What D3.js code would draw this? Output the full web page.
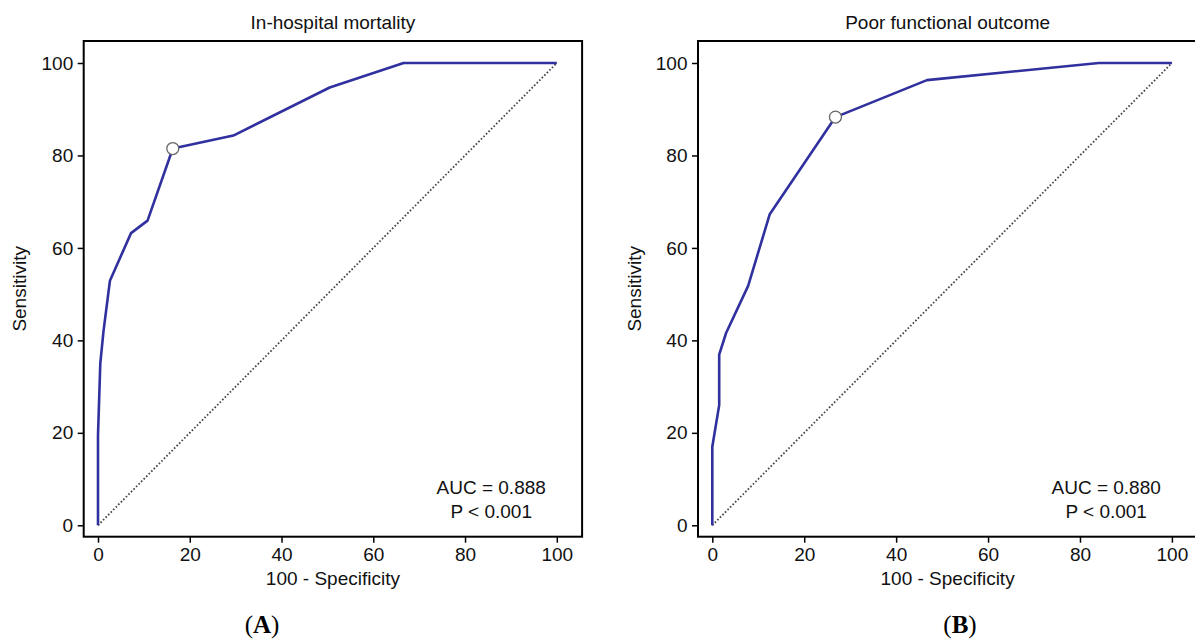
<!DOCTYPE html>
<html>
<head>
<meta charset="utf-8">
<script src="https://cdn.jsdelivr.net/npm/d3@7"></script>
<style>
  html, body { margin: 0; padding: 0; background: #fff; }
  svg { display: block; font-family: "Liberation Sans", Arial, sans-serif; }
</style>
</head>
<body>
<div id="chart"></div>
<script>
// tick values shared by both panels
const xTicks = [0, 20, 40, 60, 80, 100];
const yTicks = [0, 20, 40, 60, 80, 100];

// panel A: in-hospital mortality ROC
const mortalityFpr = [0, 0, 0.5, 1.2, 2.6, 7.2, 10.8, 16.3, 29.5, 50.5, 66.6, 100];
const mortalityTpr = [0, 19.5, 35, 42, 52.9, 63.2, 65.9, 81.5, 84.3, 94.7, 100, 100];
const mortalityCutoff = [16.3, 81.5];

// panel B: poor functional outcome ROC
const outcomeFpr = [0, 0, 1.5, 1.5, 3.0, 7.8, 12.5, 26.8, 46.7, 84.1, 100];
const outcomeTpr = [0, 17, 26, 36.9, 41.6, 51.8, 67.3, 88.3, 96.3, 100, 100];
const outcomeCutoff = [26.8, 88.3];

const panelTitles = ['In-hospital mortality', 'Poor functional outcome'];
const aucLabels = ['AUC = 0.888', 'AUC = 0.880'];
const pLabels = ['P < 0.001', 'P < 0.001'];
const panelLetters = ['A', 'B'];

const W = 1195, H = 641;
const lineColor = '#30309e';

const svg = d3.select('#chart')
    .append('svg')
    .attr('width', W)
    .attr('height', H);

// x0/x100 are pixel positions of data 0 and 100, letterX the (A)/(B) label centre
const panels = [
    {fpr: mortalityFpr, tpr: mortalityTpr, cut: mortalityCutoff, x0: 98, x100: 556.8, letterX: 262},
    {fpr: outcomeFpr, tpr: outcomeTpr, cut: outcomeCutoff, x0: 712.3, x100: 1171.9, letterX: 960}
];

panels.forEach((p, i) => {
    const x = d3.scaleLinear().domain([0, 100]).range([p.x0, p.x100]);
    const y = d3.scaleLinear().domain([0, 100]).range([525.3, 63]);

    // frame extends a bit beyond the data range
    const left = x(0) - 14.3, right = x(100) + 25.3;
    const top = 41, bottom = 536.7;

    const g = svg.append('g');

    // axes
    const yAxis = g.append('g')
        .attr('transform', `translate(${left},0)`)
        .call(d3.axisLeft(y).tickValues(yTicks).tickSize(6).tickPadding(4.5).tickSizeOuter(0));
    const xAxis = g.append('g')
        .attr('transform', `translate(0,${bottom})`)
        .call(d3.axisBottom(x).tickValues(xTicks).tickSize(6).tickPadding(4.5).tickSizeOuter(0));

    [xAxis, yAxis].forEach(a => {
        a.select('.domain').remove();
        a.selectAll('line').attr('stroke', '#000').attr('stroke-width', 1.5);
        a.selectAll('text')
            .attr('fill', '#111')
            .style('font-size', '19px')
            .style('font-family', '"Liberation Sans", Arial, sans-serif');
    });

    // reference diagonal
    g.append('line')
        .attr('x1', x(0)).attr('y1', y(0))
        .attr('x2', x(100)).attr('y2', y(100))
        .attr('stroke', '#444')
        .attr('stroke-width', 1.8)
        .attr('stroke-dasharray', '1.6 2');

    // ROC curve
    const pts = p.fpr.map((v, k) => [v, p.tpr[k]]);
    g.append('path')
        .datum(pts)
        .attr('fill', 'none')
        .attr('stroke', lineColor)
        .attr('stroke-width', 2.6)
        .attr('stroke-linejoin', 'round')
        .attr('d', d3.line().x(d => x(d[0])).y(d => y(d[1])));

    // optimal cut-off
    g.append('circle')
        .attr('cx', x(p.cut[0]))
        .attr('cy', y(p.cut[1]))
        .attr('r', 6)
        .attr('fill', '#fff')
        .attr('stroke', '#666')
        .attr('stroke-width', 1.3);

    // frame
    g.append('rect')
        .attr('x', left).attr('y', top)
        .attr('width', right - left)
        .attr('height', bottom - top)
        .attr('fill', 'none')
        .attr('stroke', '#000')
        .attr('stroke-width', 2);

    const cx = (left + right) / 2;

    g.append('text')
        .attr('x', cx).attr('y', 28.5)
        .attr('text-anchor', 'middle')
        .style('font-size', '19px')
        .attr('fill', '#111')
        .text(panelTitles[i]);

    g.append('text')
        .attr('x', cx).attr('y', 585)
        .attr('text-anchor', 'middle')
        .style('font-size', '19px')
        .attr('fill', '#111')
        .text('100 - Specificity');

    g.append('text')
        .attr('transform', `translate(${left - 64},${(top + bottom) / 2}) rotate(-90)`)
        .attr('dy', '0.35em')
        .attr('text-anchor', 'middle')
        .style('font-size', '19px')
        .attr('fill', '#111')
        .text('Sensitivity');

    // AUC annotation
    const ax = x(85.7);
    g.append('text')
        .attr('x', ax).attr('y', 494.3)
        .attr('text-anchor', 'middle')
        .style('font-size', '19px')
        .attr('fill', '#111')
        .text(aucLabels[i]);
    g.append('text')
        .attr('x', ax).attr('y', 517.7)
        .attr('text-anchor', 'middle')
        .style('font-size', '19px')
        .attr('fill', '#111')
        .text(pLabels[i]);

    // panel letter
    const lt = g.append('text')
        .attr('x', p.letterX).attr('y', 633)
        .attr('text-anchor', 'middle')
        .style('font-family', '"Liberation Serif", "Times New Roman", serif')
        .style('font-size', '25px')
        .attr('fill', '#000');
    lt.append('tspan').text('(');
    lt.append('tspan').attr('font-weight', 'bold').text(panelLetters[i]);
    lt.append('tspan').text(')');
});
</script>
</body>
</html>
